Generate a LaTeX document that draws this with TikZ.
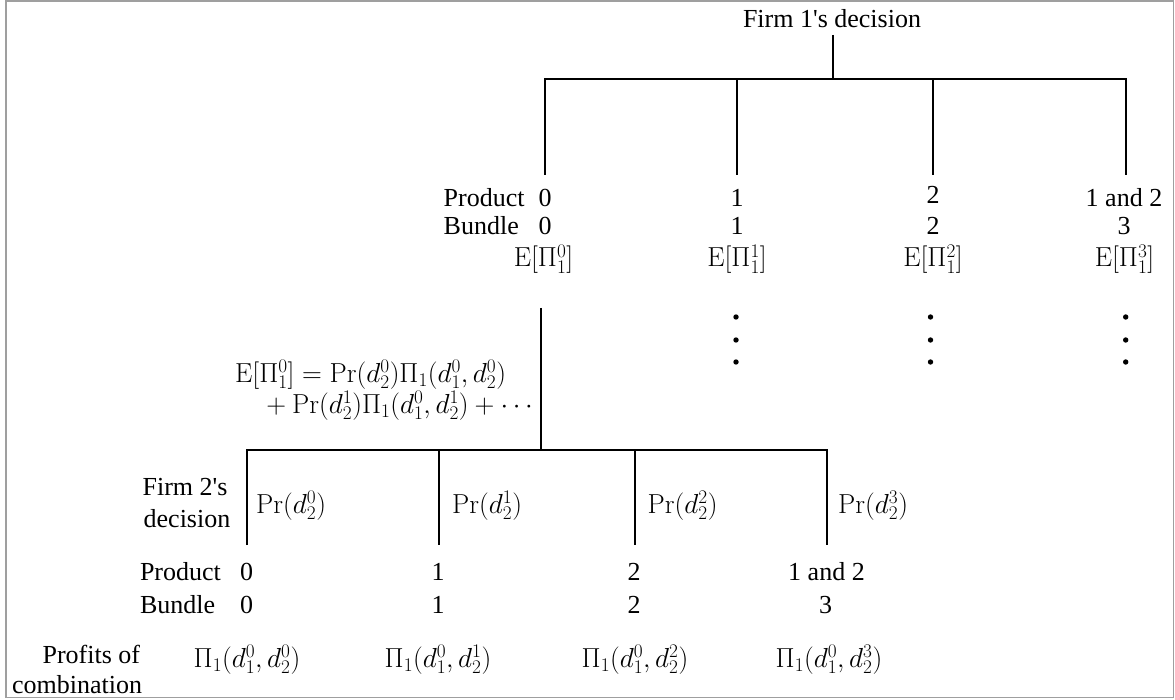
\RequirePackage{fix-cm}
\documentclass[tikz,border=0pt]{standalone}
\usepackage[no-math]{fontspec}
\setmainfont{Liberation Serif}
\begin{document}
\begin{tikzpicture}[x=1pt,y=-1pt,
  txt/.style={inner sep=0pt, font=\fontsize{26}{31}\selectfont},
  mth/.style={inner sep=0pt, font=\fontsize{27.5}{33}\selectfont},
  eqn/.style={mth, text height=18pt, text depth=7pt},
  tree/.style={line width=2pt, black},
  frame/.style={line width=1.6pt, gray!75},
  dot/.style={circle, fill=black, inner sep=0pt, minimum size=5.4pt}]
\useasboundingbox (0,0) rectangle (1175,700);
\draw[frame] (6,0.8) rectangle (1173.5,697.5);

% ---------- Firm 1 ----------
\node[txt, anchor=base] (t1) at (832,28) {Firm 1\textquotesingle s decision};
\coordinate (t1s) at (833,35);
\coordinate (j1) at (833,79);
\foreach \i/\x in {0/545,1/737,2/933,3/1126}{
  \coordinate (u\i) at (\x,79);
  \coordinate (e\i) at (\x,175);
}
\draw[tree] (t1s) -- (j1);
\draw[tree] (e0) -- (u0) -- (u3) -- (e3);
\draw[tree] (u1) -- (e1);
\draw[tree] (u2) -- (e2);

\node[txt, anchor=base west] (p1) at (443.5,207) {Product};
\node[txt, anchor=base west] (b1) at (443.5,235) {Bundle};
\node[txt, anchor=base] (p10) at (545,207) {0};
\node[txt, anchor=base] (p11) at (737,207) {1};
\node[txt, anchor=base] (p12) at (933,204) {2};
\node[txt, anchor=base] (p13) at (1124,207) {1 and 2};
\node[txt, anchor=base] (b10) at (545,235) {0};
\node[txt, anchor=base] (b11) at (737,235) {1};
\node[txt, anchor=base] (b12) at (933,235) {2};
\node[txt, anchor=base] (b13) at (1124,235) {3};
\node[mth, anchor=base] (x0) at (543.5,267) {$\mathrm{E}[\Pi_1^0]$};
\node[mth, anchor=base] (x1) at (737,267) {$\mathrm{E}[\Pi_1^1]$};
\node[mth, anchor=base] (x2) at (933,267) {$\mathrm{E}[\Pi_1^2]$};
\node[mth, anchor=base] (x3) at (1124.5,267) {$\mathrm{E}[\Pi_1^3]$};

\foreach \x/\n in {736/a,930.5/b,1125.7/c}{
  \node[dot] (d\n1) at (\x,317) {};
  \node[dot] (d\n2) at (\x,340) {};
  \node[dot] (d\n3) at (\x,362) {};
}

% ---------- expected profit ----------
\node[eqn, anchor=base west] (eq1) at (235,382)
  {$\mathrm{E}[\Pi_1^0] = \Pr(d_2^0)\Pi_1(d_1^0,d_2^0)$};
\node[eqn, anchor=base west] (eq2) at (260,413)
  {${}+\Pr(d_2^1)\Pi_1(d_1^0,d_2^1)+\cdots$};

% ---------- Firm 2 ----------
\coordinate (v0) at (541,308);
\coordinate (j2) at (541,450);
\foreach \i/\x in {0/247,1/439,2/635,3/827}{
  \coordinate (w\i) at (\x,450);
  \coordinate (f\i) at (\x,545);
}
\draw[tree] (v0) -- (j2);
\draw[tree] (f0) -- (w0) -- (w3) -- (f3);
\draw[tree] (w1) -- (f1);
\draw[tree] (w2) -- (f2);

\node[txt, anchor=base] (t2a) at (185,495) {Firm 2\textquotesingle s};
\node[txt, anchor=base] (t2b) at (187,527) {decision};
\node[mth, anchor=base west] (q0) at (256,513) {$\Pr(d_2^0)$};
\node[mth, anchor=base west] (q1) at (452,513) {$\Pr(d_2^1)$};
\node[mth, anchor=base west] (q2) at (647.5,513) {$\Pr(d_2^2)$};
\node[mth, anchor=base west] (q3) at (838,513) {$\Pr(d_2^3)$};

\node[txt, anchor=base west] (p2) at (139.8,580) {Product};
\node[txt, anchor=base west] (b2) at (139.8,613) {Bundle};
\node[txt, anchor=base] (p20) at (246.5,580) {0};
\node[txt, anchor=base] (p21) at (438,580) {1};
\node[txt, anchor=base] (p22) at (634,580) {2};
\node[txt, anchor=base] (p23) at (826.5,580) {1 and 2};
\node[txt, anchor=base] (b20) at (246.5,613) {0};
\node[txt, anchor=base] (b21) at (438,613) {1};
\node[txt, anchor=base] (b22) at (634,613) {2};
\node[txt, anchor=base] (b23) at (825.5,613) {3};

\node[txt, anchor=base] (pr1) at (91.3,663) {Profits of};
\node[txt, anchor=base] (pr2) at (77,693) {combination};
\node[mth, anchor=base] (y0) at (247,667) {$\Pi_1(d_1^0,d_2^0)$};
\node[mth, anchor=base] (y1) at (438,667) {$\Pi_1(d_1^0,d_2^1)$};
\node[mth, anchor=base] (y2) at (635,667) {$\Pi_1(d_1^0,d_2^2)$};
\node[mth, anchor=base] (y3) at (829,667) {$\Pi_1(d_1^0,d_2^3)$};
\end{tikzpicture}
\end{document}
